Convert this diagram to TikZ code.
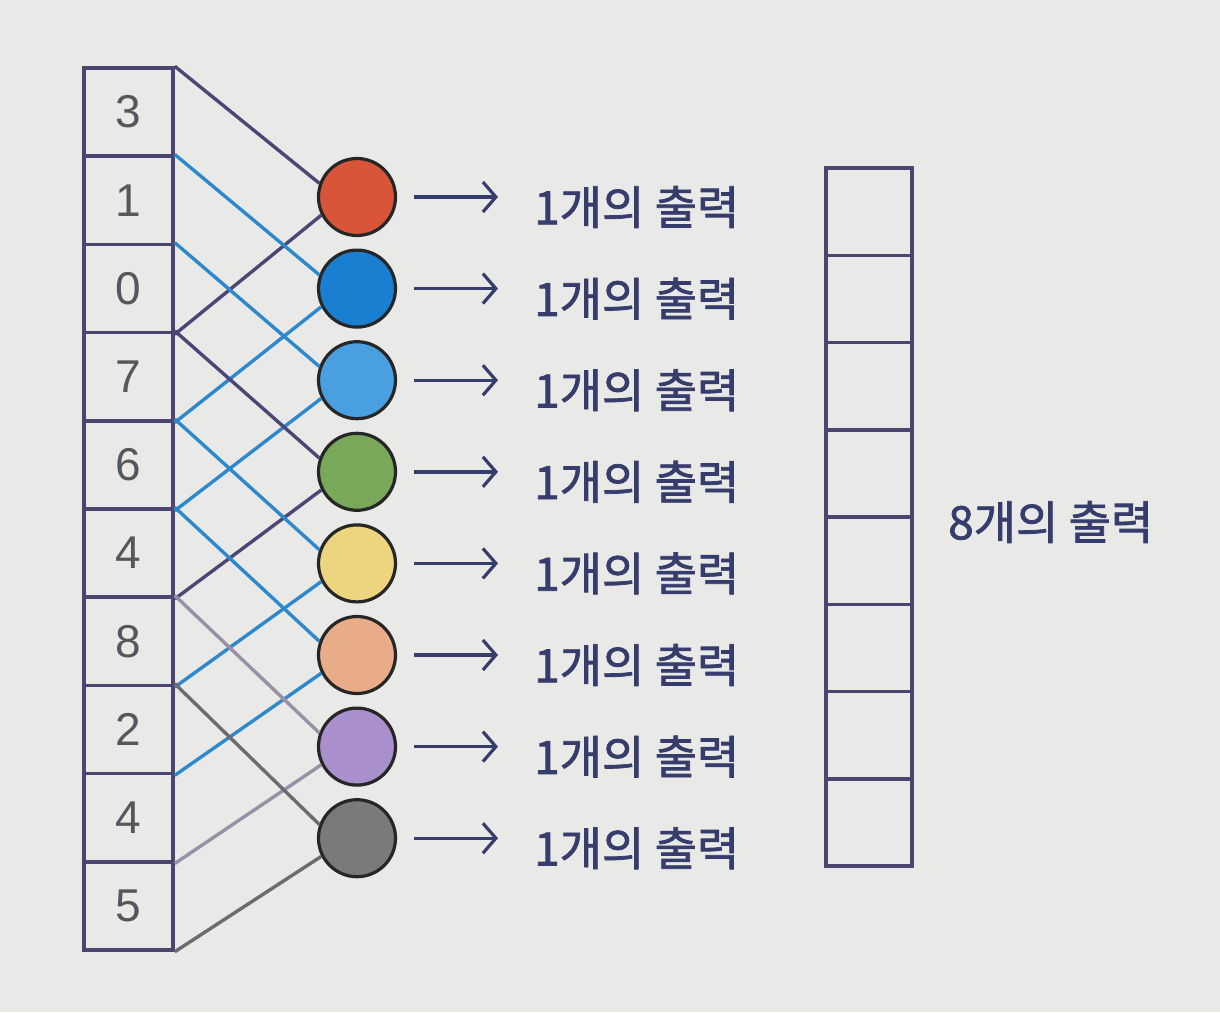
\documentclass[tikz,border=0pt]{standalone}
\usepackage{fontspec}
\setmainfont{Liberation Sans}
\newfontfamily\krfont[FakeBold=1.6]{Noto Sans CJK KR}
\usetikzlibrary{arrows.meta}
\definecolor{bg}{HTML}{E9E9E7}
\definecolor{frame}{HTML}{4D4470}
\definecolor{ink}{HTML}{363C6B}
\definecolor{digit}{HTML}{55585A}
\definecolor{dk}{HTML}{4E4577}
\definecolor{bl}{HTML}{2E88CC}
\definecolor{lg}{HTML}{9990A6}
\definecolor{dg}{HTML}{6D6A70}
\definecolor{c0}{HTML}{D9553A}
\definecolor{c1}{HTML}{1A7FD0}
\definecolor{c2}{HTML}{4A9FE0}
\definecolor{c3}{HTML}{7AA85A}
\definecolor{c4}{HTML}{ECD57E}
\definecolor{c5}{HTML}{E8AC88}
\definecolor{c6}{HTML}{A98FCC}
\definecolor{c7}{HTML}{7A7A7A}
\begin{document}
\begin{tikzpicture}[x=1pt,y=-1pt,
  cell/.style={draw=frame,line width=3.5pt,minimum width=89pt,minimum height=88.2pt,inner sep=0pt,
    font=\fontsize{46}{46}\selectfont,text=digit},
  ocell/.style={draw=frame,line width=3.5pt,minimum width=86pt,minimum height=87.25pt,inner sep=0pt},
  neuron/.style={circle,draw=black!85,line width=3.2pt,minimum size=77pt,inner sep=0pt},
  conn/.style={line width=3.4pt},
  arr/.style={draw=ink,line width=3.4pt,-{Straight Barb[length=13pt,width=30pt,line width=3.2pt]},
    shorten <=17pt},
  lbl/.style={anchor=west,inner sep=0pt,text=ink,font=\krfont\fontsize{46}{46}\selectfont}]
\fill[bg] (0,0) rectangle (1220,1012);
\useasboundingbox (0,0) rectangle (1220,1012);
% input cells
\foreach \v [count=\i from 0] in {3,1,0,7,6,4,8,2,4,5}
  \node[cell] (L\i) at (128.5,{68+88.2*(\i+0.5)}) {\v};
% output cells
\foreach \i in {0,...,7}
  \node[ocell] (R\i) at (869,{168+87.25*(\i+0.5)}) {};
% neurons
\foreach \i/\c in {0/c0,1/c1,2/c2,3/c3,4/c4,5/c5,6/c6,7/c7}
  \node[neuron,fill=\c] (C\i) at (357,{197+91.6*\i}) {};
% connections
\foreach \i/\c in {0/dk,1/bl,2/bl,3/dk,4/bl,5/bl,6/lg,7/dg}{
  \pgfmathtruncatemacro\j{\i+2}
  \draw[conn,draw=\c] (L\i.north east) -- (C\i.160);
  \draw[conn,draw=\c] (L\j.south east) -- (C\i.207);
}
% labels and arrows
\foreach \i in {0,...,7}{
  \node[lbl] (T\i) at (534,{207+91.6*\i}) {1개의 출력};
  \draw[arr] (C\i.east) -- ([xshift=-36pt]T\i.west |- C\i.east);
}
\node[lbl] (O) at (948,522) {8개의 출력};
\end{tikzpicture}
\end{document}
